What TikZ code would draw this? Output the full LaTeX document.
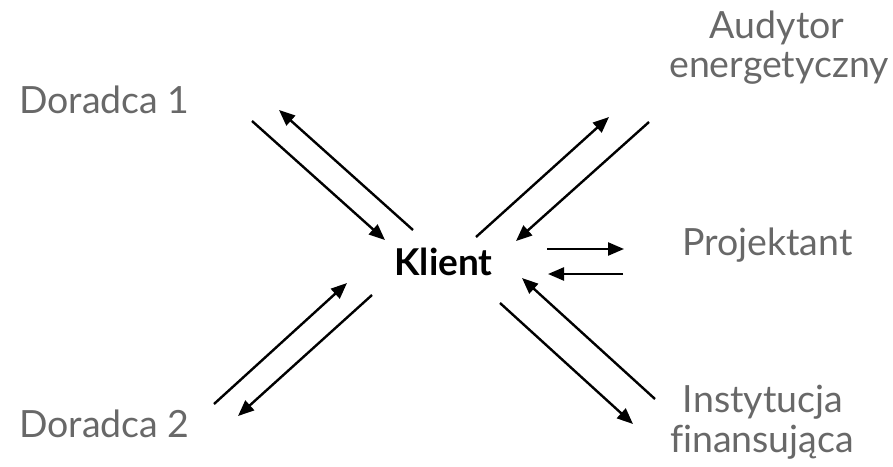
\documentclass[tikz,border=0pt]{standalone}
\usepackage{fontspec}
\setmainfont{Lato}[Ligatures=NoCommon]
\usetikzlibrary{arrows.meta}
\definecolor{labelgray}{RGB}{104,104,104}
\tikzset{
  lbl/.style={inner sep=0pt, text=labelgray, font=\fontsize{37.5}{42}\selectfont},
  klient/.style={inner sep=0pt, text=black, font=\fontsize{37}{42}\selectfont\bfseries},
  link/.style={line width=2.4pt, -{Triangle[length=16pt,width=13pt]}}
}
\begin{document}
\begin{tikzpicture}[x=1pt,y=-1pt]
\useasboundingbox (0,0) rectangle (893,466);
% labels
\node[lbl, anchor=base west] (d1) at (19,113) {Doradca 1};
\node[lbl, anchor=base west] (d2) at (19,437) {Doradca 2};
\node[lbl, anchor=base] (au1) at (777,38) {Audytor};
\node[lbl, anchor=base] (au2) at (779,77) {energetyczny};
\node[lbl, anchor=base west] (pr) at (682,255) {Projektant};
\node[lbl, anchor=base] (in1) at (763,412) {Instytucja};
\node[lbl, anchor=base] (in2) at (762,452) {finansująca};
\node[klient, anchor=base] (kl) at (443.5,275) {Klient};
% arrow end points
\coordinate (d1a0) at (252,121); \coordinate (d1a1) at (385,240);
\coordinate (d1b0) at (413,230); \coordinate (d1b1) at (279,110);
\coordinate (aua0) at (476,237); \coordinate (aua1) at (609,117);
\coordinate (aub0) at (649,122); \coordinate (aub1) at (516,241);
\coordinate (pra0) at (547,249); \coordinate (pra1) at (624,249);
\coordinate (prb0) at (623,274); \coordinate (prb1) at (548,274);
\coordinate (ina0) at (655,399); \coordinate (ina1) at (522,278);
\coordinate (inb0) at (500,303); \coordinate (inb1) at (633,424);
\coordinate (d2a0) at (214,404); \coordinate (d2a1) at (347,283);
\coordinate (d2b0) at (372,295); \coordinate (d2b1) at (238,416);
% arrows
\draw[link] (d1a0) -- (d1a1);
\draw[link] (d1b0) -- (d1b1);
\draw[link] (aua0) -- (aua1);
\draw[link] (aub0) -- (aub1);
\draw[link] (pra0) -- (pra1);
\draw[link] (prb0) -- (prb1);
\draw[link] (ina0) -- (ina1);
\draw[link] (inb0) -- (inb1);
\draw[link] (d2a0) -- (d2a1);
\draw[link] (d2b0) -- (d2b1);
\end{tikzpicture}
\end{document}
